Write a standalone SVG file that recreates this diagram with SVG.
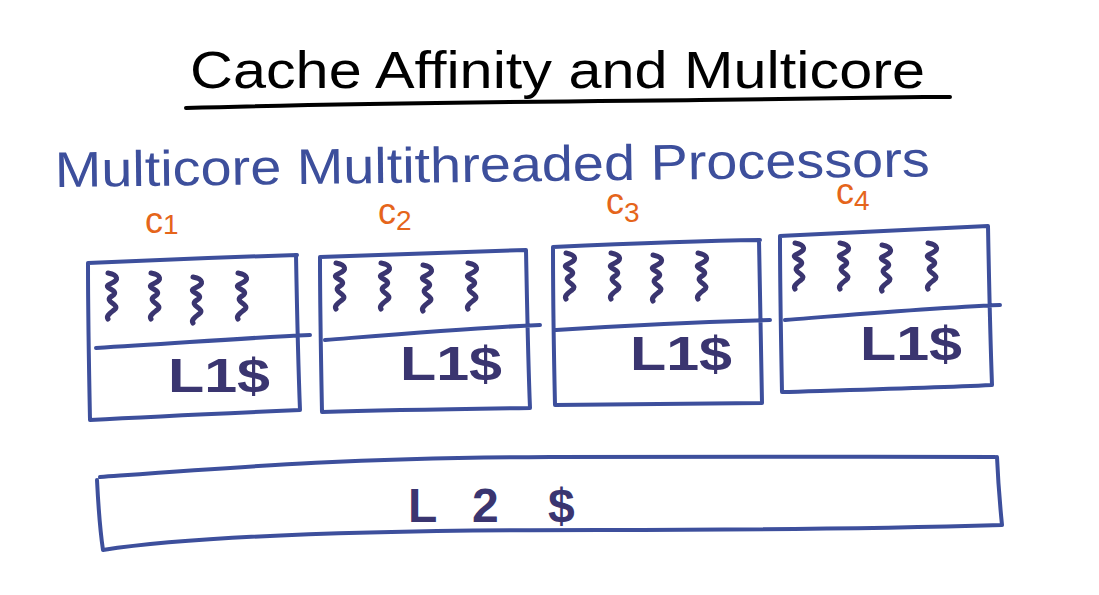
<svg xmlns="http://www.w3.org/2000/svg" width="1099" height="595" viewBox="0 0 1099 595">
<style>
.box{fill:none;stroke:#3d4f9c;stroke-width:4;stroke-linecap:round;stroke-linejoin:round}
.thr{fill:none;stroke:#3a3570;stroke-width:5;stroke-linecap:round;stroke-linejoin:round}
.l1{font-family:"Liberation Sans",Arial,sans-serif;font-size:48px;font-weight:bold;fill:#3a3570}
.core{font-family:"Liberation Sans",Arial,sans-serif;font-size:36px;fill:#e5651b}
.ttl{font-family:"Liberation Sans",Arial,sans-serif;font-size:52px;fill:#000}
.sub{font-family:"Liberation Sans",Arial,sans-serif;font-size:50px;fill:#3d4f9c}
</style>
<defs>
<path id="sq" d="M2,0 C12,2 14,7 4,11 C-6,15 16,17 6,23 C-4,29 16,31 8,37 C3,41 0,43 2,46"/>
</defs>
<rect width="1099" height="595" fill="#fff"/>
<g id="title">
<text class="ttl" x="190" y="88" textLength="735" lengthAdjust="spacingAndGlyphs">Cache Affinity and Multicore</text>
<path d="M186,108 C350,103 500,102 700,100 S900,97 950,97" fill="none" stroke="#000" stroke-width="4" stroke-linecap="round"/>
</g>
<g id="subtitle">
<text class="sub" x="55" y="187" textLength="875" lengthAdjust="spacingAndGlyphs" transform="rotate(-0.7 55 187)">Multicore Multithreaded Processors</text>
</g>
<g id="core1">
<text class="core" x="145" y="233">c<tspan font-size="28" dy="1">1</tspan></text>
<path class="box" d="M88,263 C150,260 230,257 297,255 M296,255 C297,310 298,360 300,410 M90,420 C160,416 230,413 300,410 M88,263 C88,320 89,370 90,420 M96,348 C170,344 240,338 310,335"/>
<use href="#sq" class="thr" x="106" y="273"/>
<use href="#sq" class="thr" x="149" y="273"/>
<use href="#sq" class="thr" x="191" y="277"/>
<use href="#sq" class="thr" x="236" y="273"/>
<text class="l1" x="168" y="392" textLength="102" lengthAdjust="spacingAndGlyphs">L1$</text>
</g>
<g id="core2">
<text class="core" x="378" y="224">c<tspan font-size="28" dy="6">2</tspan></text>
<path class="box" d="M320,257 C390,254 460,252 526,250 M526,250 C527,300 528,360 530,408 M322,412 C390,410 460,409 530,408 M320,257 C320,310 321,360 322,412 M325,340 C400,334 470,328 540,325"/>
<use href="#sq" class="thr" x="334" y="263"/>
<use href="#sq" class="thr" x="379" y="263"/>
<use href="#sq" class="thr" x="421" y="265"/>
<use href="#sq" class="thr" x="466" y="263"/>
<text class="l1" x="400" y="380" textLength="102" lengthAdjust="spacingAndGlyphs">L1$</text>
</g>
<g id="core3">
<text class="core" x="606" y="214">c<tspan font-size="28" dy="8">3</tspan></text>
<path class="box" d="M553,247 C620,244 690,241 760,240 M759,240 C760,290 761,350 762,403 M555,405 C630,404 700,403 762,403 M553,247 C553,300 554,360 555,405 M556,330 C630,325 700,322 770,320"/>
<use href="#sq" class="thr" x="564" y="253"/>
<use href="#sq" class="thr" x="609" y="253"/>
<use href="#sq" class="thr" x="651" y="255"/>
<use href="#sq" class="thr" x="696" y="253"/>
<text class="l1" x="630" y="370" textLength="102" lengthAdjust="spacingAndGlyphs">L1$</text>
</g>
<g id="core4">
<text class="core" x="836" y="204">c<tspan font-size="28" dy="6">4</tspan></text>
<path class="box" d="M780,236 C850,233 920,229 988,226 M988,226 C989,280 990,330 992,385 M782,392 C850,390 930,388 992,385 M780,236 C780,290 781,340 782,392 M785,320 C860,314 930,308 1000,305"/>
<use href="#sq" class="thr" x="793" y="243"/>
<use href="#sq" class="thr" x="838" y="243"/>
<use href="#sq" class="thr" x="880" y="245"/>
<use href="#sq" class="thr" x="926" y="243"/>
<text class="l1" x="860" y="360" textLength="102" lengthAdjust="spacingAndGlyphs">L1$</text>
</g>
<g id="l2">
<path class="box" d="M100,477 C250,466 350,458 550,457 S850,457 995,457 M997,457 C998,480 1000,505 1002,525 M103,550 C200,535 400,530 600,530 S900,528 1002,525 M97,480 C98,500 100,530 103,550"/>
<text class="l1" y="522" font-size="62"><tspan x="408">L</tspan><tspan x="472">2</tspan><tspan x="548" dx="0">$</tspan></text>
</g>
</svg>
